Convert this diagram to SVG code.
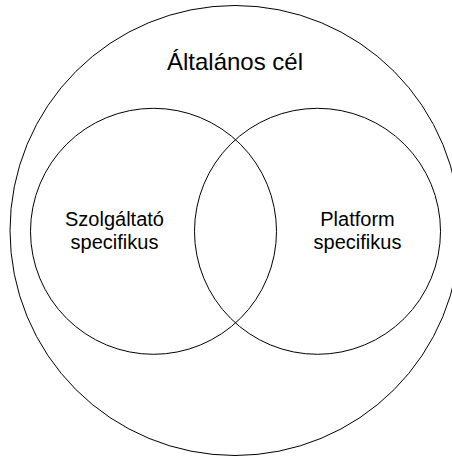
<svg xmlns="http://www.w3.org/2000/svg" width="452" height="457" viewBox="0 0 452 457">
<style>
.c{fill:none;stroke:#000;stroke-width:1}
.t{font-family:"Liberation Sans",Arial,Helvetica,sans-serif;fill:#000;text-anchor:middle}
</style>
<rect width="452" height="457" fill="#fff"/>
<g id="general">
<circle class="c" cx="235" cy="230.5" r="225"/>
<text class="t" x="235" y="70" font-size="24">Általános cél</text>
</g>
<g id="service">
<circle class="c" cx="153.5" cy="231.3" r="123"/>
<text class="t" x="114.5" y="226" font-size="20">Szolgáltató</text>
<text class="t" x="114.5" y="249" font-size="20">specifikus</text>
</g>
<g id="platform">
<circle class="c" cx="317.5" cy="231.3" r="123"/>
<text class="t" x="357.5" y="226" font-size="20">Platform</text>
<text class="t" x="357.5" y="249" font-size="20">specifikus</text>
</g>
<g id="connectors"/>
</svg>
